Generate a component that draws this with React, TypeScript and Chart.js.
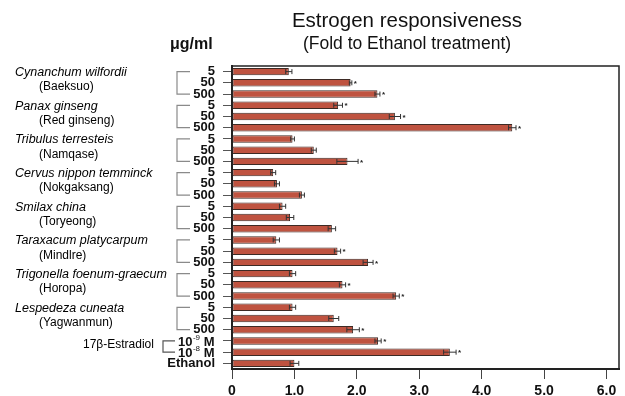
import React, { useEffect, useRef } from 'react';
import { Chart, registerables } from 'chart.js';

Chart.register(...registerables);

// ---- data ----
const speciesNames = [
  'Cynanchum wilfordii',
  'Panax ginseng',
  'Tribulus terresteis',
  'Cervus nippon temminck',
  'Smilax china',
  'Taraxacum platycarpum',
  'Trigonella foenum-graecum',
  'Lespedeza cuneata',
];
const commonNames = [
  '(Baeksuo)',
  '(Red ginseng)',
  '(Namqase)',
  '(Nokgaksang)',
  '(Toryeong)',
  '(Mindlre)',
  '(Horopa)',
  '(Yagwanmun)',
];
const doses = ['5', '50', '500'];
const estradiolDoses = ['-9', '-8'];
const controlLabel = 'Ethanol';

const categories: string[] = [
  ...speciesNames.flatMap(() => doses),
  ...estradiolDoses.map((e) => `10^${e} M`),
  controlLabel,
];

const foldValues = [
  0.91, 1.9, 2.33,
  1.7, 2.61, 4.49,
  0.97, 1.31, 1.85,
  0.66, 0.72, 1.12,
  0.81, 0.93, 1.6,
  0.71, 1.69, 2.18,
  0.97, 1.77, 2.63,
  0.97, 1.63, 1.94,
  2.34, 3.49,
  1.0,
];
const foldErrors = [
  0.05, 0.02, 0.04,
  0.07, 0.09, 0.06,
  0.03, 0.04, 0.17,
  0.04, 0.04, 0.04,
  0.05, 0.06, 0.06,
  0.05, 0.05, 0.08,
  0.05, 0.05, 0.05,
  0.05, 0.08, 0.1,
  0.05, 0.1,
  0.07,
];
const significant = [
  false, true, true,
  true, true, true,
  false, false, true,
  false, false, false,
  false, false, false,
  false, true, true,
  false, true, true,
  false, false, true,
  true, true,
  false,
];
const xTickValues = [0, 1, 2, 3, 4, 5, 6];
const xMax = 6.2;

const FONT = '"Liberation Sans", Arial, sans-serif';

const overlayPlugin = {
  id: 'overlay',
  afterDatasetsDraw(chart: any) {
    const ctx = chart.ctx as CanvasRenderingContext2D;
    const xs = chart.scales.x;
    const ys = chart.scales.y;
    const area = chart.chartArea;
    const meta = chart.getDatasetMeta(0);
    ctx.save();

    // error bars and asterisks
    ctx.strokeStyle = '#333';
    ctx.lineWidth = 1;
    foldValues.forEach((v, i) => {
      const bar = meta.data[i];
      if (!bar) return;
      const y = bar.y;
      const e = foldErrors[i];
      const x1 = xs.getPixelForValue(v - e);
      const x2 = xs.getPixelForValue(v + e);
      ctx.beginPath();
      ctx.moveTo(x1, y);
      ctx.lineTo(x2, y);
      ctx.moveTo(x1, y - 2.5);
      ctx.lineTo(x1, y + 2.5);
      ctx.moveTo(x2, y - 2.5);
      ctx.lineTo(x2, y + 2.5);
      ctx.stroke();
      if (significant[i]) {
        ctx.fillStyle = '#222';
        ctx.font = `bold 8px ${FONT}`;
        ctx.textAlign = 'left';
        ctx.textBaseline = 'middle';
        ctx.fillText('*', x2 + 2, y + 1);
      }
    });

    // frame top & right
    ctx.strokeStyle = '#222';
    ctx.lineWidth = 1.5;
    ctx.beginPath();
    ctx.moveTo(area.left, area.top);
    ctx.lineTo(area.right, area.top);
    ctx.lineTo(area.right, area.bottom);
    ctx.stroke();

    // brackets + species names
    speciesNames.forEach((name, g) => {
      const yTop = ys.getPixelForValue(g * 3);
      const yBot = ys.getPixelForValue(g * 3 + 2);
      ctx.strokeStyle = '#8a8a8a';
      ctx.lineWidth = 1.2;
      ctx.beginPath();
      ctx.moveTo(190, yTop);
      ctx.lineTo(177, yTop);
      ctx.lineTo(177, yBot);
      ctx.lineTo(190, yBot);
      ctx.stroke();

      ctx.fillStyle = '#000';
      ctx.textAlign = 'left';
      ctx.textBaseline = 'middle';
      ctx.font = `italic 12.5px ${FONT}`;
      ctx.fillText(name, 15, yTop + 1);
      ctx.font = `12px ${FONT}`;
      ctx.fillText(commonNames[g], 39, yTop + 15.5);
    });

    // estradiol labels
    const e0 = speciesNames.length * 3;
    const yE1 = ys.getPixelForValue(e0);
    const yE2 = ys.getPixelForValue(e0 + 1);
    ctx.strokeStyle = '#555';
    ctx.lineWidth = 1.2;
    ctx.beginPath();
    ctx.moveTo(175, yE1);
    ctx.lineTo(163, yE1);
    ctx.lineTo(163, yE2);
    ctx.lineTo(175, yE2);
    ctx.stroke();
    estradiolDoses.forEach((ex, k) => {
      const y = k === 0 ? yE1 : yE2;
      const right = 214;
      ctx.fillStyle = '#111';
      ctx.textBaseline = 'middle';
      ctx.textAlign = 'left';
      ctx.font = `bold 13px ${FONT}`;
      const wM = ctx.measureText(' M').width;
      const w10 = ctx.measureText('10').width;
      ctx.font = `8px ${FONT}`;
      const wE = ctx.measureText(ex).width;
      const start = right - wM - wE - w10;
      ctx.font = `bold 13px ${FONT}`;
      ctx.fillText('10', start, y + 1);
      ctx.font = `8px ${FONT}`;
      ctx.fillText(ex, start + w10 + 0.5, y - 3);
      ctx.font = `bold 13px ${FONT}`;
      ctx.fillText(' M', start + w10 + wE + 0.5, y + 1);
    });
    ctx.fillStyle = '#000';
    ctx.textAlign = 'left';
    ctx.font = `12px ${FONT}`;
    ctx.fillText('17β-Estradiol', 83, (yE1 + yE2) / 2 - 2);

    // titles
    ctx.fillStyle = '#111';
    ctx.textAlign = 'center';
    ctx.textBaseline = 'middle';
    ctx.font = `20.5px ${FONT}`;
    ctx.fillText('Estrogen responsiveness', 407, 21);
    ctx.font = `17.5px ${FONT}`;
    ctx.fillText('(Fold to Ethanol treatment)', 407, 44);
    ctx.textAlign = 'left';
    ctx.font = `bold 16px ${FONT}`;
    ctx.fillText('μg/ml', 170, 45);

    ctx.restore();
  },
};

export default function App() {
  const ref = useRef<HTMLCanvasElement | null>(null);
  useEffect(() => {
    document.body.style.margin = '0';
    const canvas = ref.current;
    if (!canvas) return;
    const chart = new Chart(canvas, {
      type: 'bar',
      data: {
        labels: categories,
        datasets: [
          {
            data: foldValues,
            backgroundColor: '#BF5340',
            borderColor: '#3d2a24',
            borderWidth: 1,
            borderSkipped: false,
            barPercentage: 0.95,
            categoryPercentage: 0.7,
          },
        ],
      },
      options: {
        indexAxis: 'y',
        animation: false,
        responsive: false,
        devicePixelRatio: 1,
        layout: { padding: { left: 0, top: 66, right: 6, bottom: 0 } },
        plugins: {
          legend: { display: false },
          tooltip: { enabled: false },
          title: { display: false },
        },
        scales: {
          x: {
            type: 'linear',
            min: 0,
            max: xMax,
            afterBuildTicks: (scale: any) => {
              scale.ticks = xTickValues.map((v) => ({ value: v }));
            },
            afterFit: (scale: any) => {
              scale.height = 27;
            },
            grid: {
              drawOnChartArea: false,
              drawTicks: true,
              tickLength: 10,
              color: '#444',
              lineWidth: 1,
            },
            border: { display: true, color: '#222', width: 2 },
            ticks: {
              padding: 4,
              color: '#111',
              font: { family: FONT, size: 14, weight: 'bold' },
              callback: (v: any) => (Number(v) === 0 ? '0' : Number(v).toFixed(1)),
            },
          },
          y: {
            type: 'category',
            offset: true,
            afterFit: (scale: any) => {
              scale.width = 232;
            },
            grid: {
              offset: false,
              drawOnChartArea: false,
              drawTicks: true,
              tickLength: 9,
              color: '#555',
              lineWidth: 1,
            },
            border: { display: true, color: '#222', width: 2 },
            ticks: {
              autoSkip: false,
              padding: 8,
              color: '#111',
              font: { family: FONT, size: 13, weight: 'bold' },
              callback: function (this: any, _v: any, idx: number) {
                const l = categories[idx];
                return l.includes('^') ? '' : l;
              },
            },
          },
        },
      },
      plugins: [overlayPlugin],
    } as any);
    return () => chart.destroy();
  }, []);
  return (
    <div style={{ position: 'absolute', left: 0, top: 0, width: 625, height: 396, background: '#fff' }}>
      <canvas ref={ref} width={625} height={396} />
    </div>
  );
}
